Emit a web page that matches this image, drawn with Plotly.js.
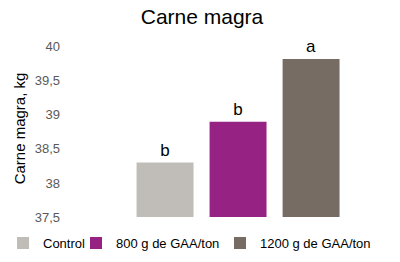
<!DOCTYPE html>
<html><head><meta charset="utf-8">
<script src="https://cdn.plot.ly/plotly-3.0.1.min.js"></script>
<style>body{margin:0;padding:0;background:#fff}#chart{width:400px;height:262px}</style>
</head><body><div id="chart"></div>
<script>
const categories = ["Control", "800 g de GAA/ton", "1200 g de GAA/ton"];
const values = [38.3, 38.9, 39.82];
const letters = ["b", "b", "a"];
const colors = ["#C0BDB8", "#962283", "#776C64"];
const yTicks = [37.5, 38, 38.5, 39, 39.5, 40];
const legendNames = ["legend", "legend2", "legend3"];

const FONT = "Liberation Sans, Arial, sans-serif";
const traces = categories.map((c, i) => ({
  type: "bar",
  name: c,
  x: [i],
  y: [values[i]],
  width: 0.78,
  marker: {color: colors[i]},
  text: [letters[i]],
  textposition: "outside",
  textfont: {family: FONT, size: 17, color: "#000"},
  cliponaxis: false,
  legend: legendNames[i],
  hoverinfo: "skip"
}));

const legendX = [3, 76, 220];
const legendBase = {orientation: "h", xref: "container", yref: "container", xanchor: "left",
  y: 0.072, yanchor: "middle", font: {size: 13, color: "#000", family: FONT}, bgcolor: "rgba(0,0,0,0)"};

const layout = {
  width: 400, height: 262,
  margin: {l: 65, r: 40, t: 40, b: 45},
  separators: ",.",
  barmode: "overlay",
  showlegend: true,
  paper_bgcolor: "#fff", plot_bgcolor: "#fff",
  font: {family: FONT, color: "#595959", size: 13},
  title: {text: "Carne magra", x: 0.505, xref: "container", y: 0.935, yref: "container", yanchor: "middle",
          font: {size: 21, color: "#000", family: FONT}},
  xaxis: {range: [-1.37, 2.67], showticklabels: false, showgrid: false, zeroline: false, showline: false, ticks: ""},
  yaxis: {range: [37.5, 40.1], tickvals: yTicks, showgrid: false, zeroline: false, showline: false, ticks: "",
          ticklabelstandoff: 4,
          tickfont: {size: 13, color: "#595959"},
          title: {text: "Carne magra, kg", standoff: 5, font: {size: 15, color: "#000"}}},
  legend: Object.assign({}, legendBase, {x: legendX[0] / 400}),
  legend2: Object.assign({}, legendBase, {x: legendX[1] / 400}),
  legend3: Object.assign({}, legendBase, {x: legendX[2] / 400})
};
Plotly.newPlot("chart", traces, layout, {displayModeBar: false, staticPlot: true});
</script></body></html>
